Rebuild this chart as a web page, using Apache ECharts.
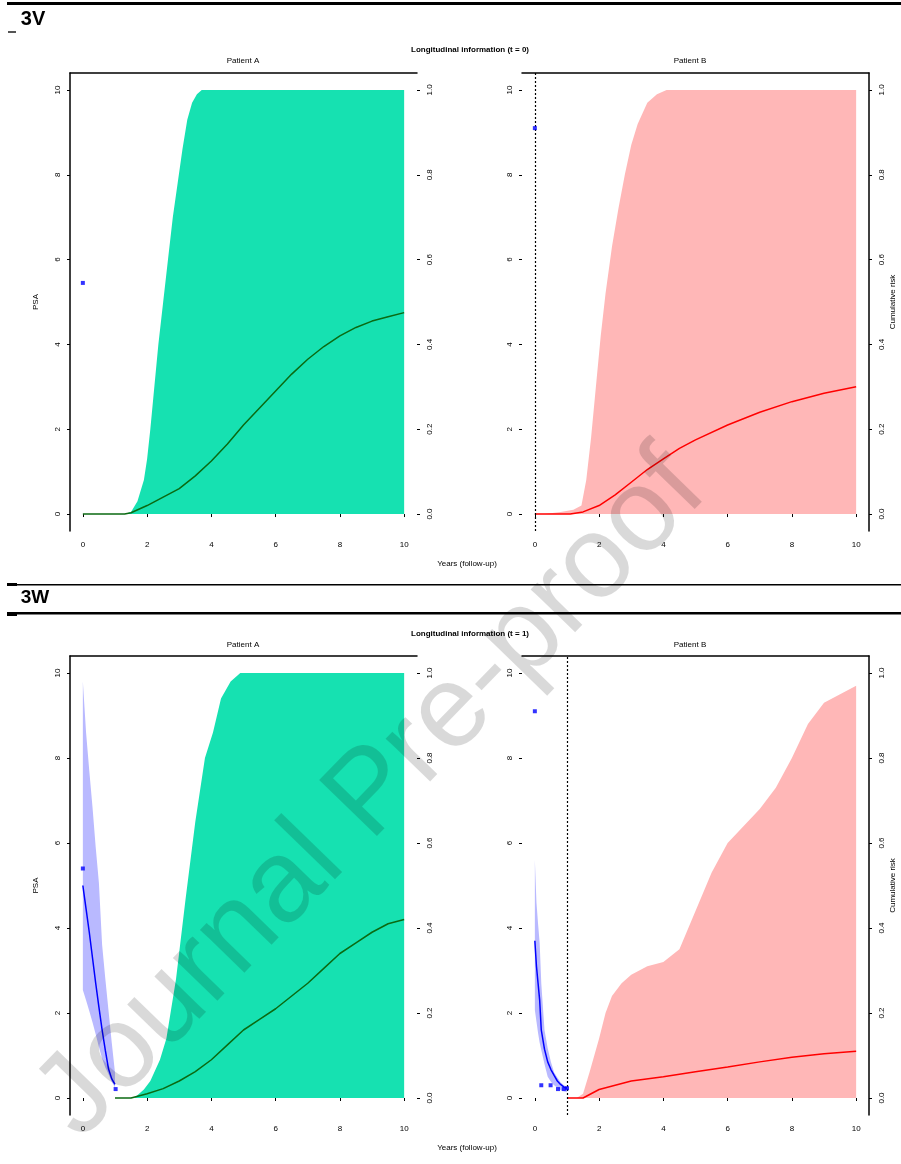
<!DOCTYPE html>
<html>
<head>
<meta charset="utf-8">
<script src="https://cdn.jsdelivr.net/npm/echarts@6/dist/echarts.min.js"></script>
<style>
html,body{margin:0;padding:0;background:#fff;}
#chart{width:901px;height:1164px;}
</style>
</head>
<body>
<div id="chart"></div>
<script>
// ---------- tick labels ----------
const yearTicks = [0, 2, 4, 6, 8, 10];
const psaTicks = [0, 2, 4, 6, 8, 10];
const riskTicks = [0, 0.2, 0.4, 0.6, 0.8, 1.0];

// ---------- 3V, Patient A (t = 0) ----------
const vA_psaObs = [[0, 5.45]];
const vA_medT = [0, 1.3, 1.5, 2, 2.5, 3, 3.5, 4, 4.5, 5, 5.5, 6, 6.5, 7, 7.5, 8, 8.5, 9, 9.5, 10];
const vA_medV = [0, 0, 0.003, 0.02, 0.04, 0.06, 0.09, 0.125, 0.165, 0.21, 0.25, 0.29, 0.33, 0.365, 0.395, 0.42, 0.44, 0.455, 0.465, 0.475];
const vA_upT = [1.3, 1.5, 1.7, 1.9, 2.0, 2.1, 2.2, 2.35, 2.5, 2.65, 2.8, 2.95, 3.1, 3.25, 3.4, 3.55, 3.7, 10];
const vA_upV = [0, 0.005, 0.03, 0.08, 0.13, 0.2, 0.28, 0.4, 0.5, 0.6, 0.7, 0.78, 0.86, 0.93, 0.97, 0.99, 1.0, 1.0];

// ---------- 3V, Patient B (t = 0) ----------
const vB_psaObs = [[0, 9.1]];
const vB_medT = [0, 1.1, 1.5, 2, 2.5, 3, 3.5, 4, 4.5, 5, 6, 7, 8, 9, 10];
const vB_medV = [0, 0, 0.005, 0.02, 0.045, 0.075, 0.105, 0.13, 0.155, 0.175, 0.21, 0.24, 0.265, 0.285, 0.30];
const vB_upT = [0.3, 0.8, 1.2, 1.45, 1.6, 1.75, 1.9, 2.05, 2.2, 2.4, 2.6, 2.8, 3.0, 3.2, 3.5, 3.8, 4.1, 10];
const vB_upV = [0, 0.005, 0.01, 0.02, 0.08, 0.18, 0.3, 0.42, 0.52, 0.63, 0.72, 0.8, 0.87, 0.92, 0.97, 0.99, 1.0, 1.0];

// ---------- 3W, Patient A (t = 1) ----------
const wA_psaObs = [[0, 5.4], [1.02, 0.21]];
const wA_psaT = [0, 0.1, 0.2, 0.3, 0.4, 0.5, 0.6, 0.7, 0.8, 0.9, 1.0];
const wA_psaMed = [5.0, 4.45, 3.9, 3.3, 2.7, 2.14, 1.6, 1.12, 0.68, 0.45, 0.32];
const wA_psaLow = [2.54, 2.3, 2.05, 1.78, 1.5, 1.2, 0.93, 0.72, 0.56, 0.38, 0.25];
const wA_psaUp = [9.8, 8.6, 7.7, 6.85, 5.9, 5.06, 3.6, 2.8, 2.05, 1.3, 0.6];
const wA_medT = [1, 1.5, 2, 2.5, 3, 3.5, 4, 4.5, 5, 5.5, 6, 6.5, 7, 7.5, 8, 8.5, 9, 9.5, 10];
const wA_medV = [0, 0, 0.01, 0.022, 0.04, 0.062, 0.09, 0.125, 0.16, 0.185, 0.21, 0.24, 0.27, 0.305, 0.34, 0.365, 0.39, 0.41, 0.42];
const wA_upT = [1, 1.6, 1.9, 2.1, 2.4, 2.6, 2.9, 3.2, 3.5, 3.8, 4.05, 4.3, 4.6, 4.9, 10];
const wA_upV = [0, 0, 0.02, 0.04, 0.09, 0.14, 0.28, 0.47, 0.65, 0.8, 0.86, 0.94, 0.98, 1.0, 1.0];

// ---------- 3W, Patient B (t = 1) ----------
const wB_psaObs = [[0, 9.1], [0.2, 0.3], [0.49, 0.3], [0.72, 0.21], [0.9, 0.21], [1.0, 0.23]];
const wB_psaT = [0, 0.05, 0.1, 0.15, 0.2, 0.3, 0.4, 0.5, 0.6, 0.7, 0.8, 0.9, 1.0];
const wB_psaMed = [3.7, 3.1, 2.7, 2.3, 1.6, 1.15, 0.85, 0.67, 0.53, 0.4, 0.32, 0.26, 0.23];
const wB_psaLow = [2.07, 1.8, 1.53, 1.3, 1.13, 0.8, 0.5, 0.38, 0.3, 0.24, 0.19, 0.16, 0.14];
const wB_psaUp = [5.6, 4.6, 4.1, 3.65, 2.7, 1.6, 1.17, 0.85, 0.6, 0.48, 0.37, 0.3, 0.26];
const wB_medT = [1, 1.5, 2, 3, 4, 5, 6, 7, 8, 9, 10];
const wB_medV = [0, 0, 0.02, 0.04, 0.05, 0.062, 0.073, 0.085, 0.096, 0.104, 0.11];
const wB_upT = [1.3, 1.5, 1.7, 2.0, 2.2, 2.4, 2.7, 3.0, 3.5, 4.0, 4.5, 5.0, 5.5, 6.0, 6.5, 7.0, 7.5, 8.0, 8.5, 9.0, 9.5, 10];
const wB_upV = [0, 0.01, 0.06, 0.14, 0.2, 0.24, 0.27, 0.29, 0.31, 0.32, 0.35, 0.44, 0.53, 0.6, 0.64, 0.68, 0.73, 0.8, 0.88, 0.93, 0.95, 0.97];

// ---------- texts ----------
const headerV = '3V';
const headerW = '3W';
const mainTitleV = 'Longitudinal information (t = 0)';
const mainTitleW = 'Longitudinal information (t = 1)';
const patientA = 'Patient A';
const patientB = 'Patient B';
const xTitle = 'Years (follow-up)';
const yLeftTitle = 'PSA';
const yRightTitle = 'Cumulative risk';
const watermark = 'Journal Pre-proof';

// ---------- helpers ----------
const zip = (a, b) => a.map((v, i) => [v, b[i]]);
const FONT = 'Liberation Sans, Arial, sans-serif';
const GREEN_FILL = '#16e1b1';
const GREEN_LINE = '#0b6a12';
const PINK_FILL = '#ffb7b7';
const RED_LINE = '#ff0000';
const BLUE_FILL = '#b9b9ff';
const BLUE_LINE = '#0000ff';

const grids = [
  {left: 70, top: 73, width: 347, height: 458},   // 3V A
  {left: 522, top: 73, width: 347, height: 458},  // 3V B
  {left: 70, top: 656, width: 347, height: 459},  // 3W A
  {left: 522, top: 656, width: 347, height: 459}  // 3W B
];

const xAxis = [];
const yAxis = [];
grids.forEach((g, gi) => {
  xAxis.push({
    gridIndex: gi, type: 'value', min: -0.4, max: 10.4, position: 'bottom',
    axisLine: {show: false},
    axisTick: {show: true, customValues: yearTicks, length: 3, lineStyle: {color: '#000', width: 1}},
    axisLabel: {customValues: yearTicks, fontSize: 8, color: '#000', margin: 10, fontFamily: FONT},
    splitLine: {show: false}
  });
  xAxis.push({
    gridIndex: gi, type: 'value', min: -0.4, max: 10.4, position: 'top',
    axisLine: {show: true, onZero: false, lineStyle: {color: '#000', width: 1.5}},
    axisTick: {show: false}, axisLabel: {show: false}, splitLine: {show: false}
  });
  const isA = gi % 2 === 0;
  yAxis.push({
    gridIndex: gi, type: 'value', min: -0.4, max: 10.4, position: 'left',
    name: isA ? yLeftTitle : '', nameLocation: 'middle', nameGap: 30, nameRotate: 90,
    nameTextStyle: {fontSize: 8, color: '#000', fontFamily: FONT},
    axisLine: {show: isA, onZero: false, lineStyle: {color: '#000', width: 1.5}},
    axisTick: {show: true, customValues: psaTicks, length: 3, lineStyle: {color: '#000'}},
    axisLabel: {customValues: psaTicks, rotate: 90, fontSize: 8, color: '#000', margin: 8, fontFamily: FONT},
    splitLine: {show: false}
  });
  yAxis.push({
    gridIndex: gi, type: 'value', min: -0.04, max: 1.04, position: 'right',
    name: isA ? '' : yRightTitle, nameLocation: 'middle', nameGap: 20, nameRotate: 90,
    nameTextStyle: {fontSize: 8, color: '#000', fontFamily: FONT},
    axisLine: {show: !isA, onZero: false, lineStyle: {color: '#000', width: 1.5}},
    axisTick: {show: true, customValues: riskTicks, length: 3, lineStyle: {color: '#000'}},
    axisLabel: {customValues: riskTicks, rotate: 90, fontSize: 8, color: '#000', margin: 9, fontFamily: FONT,
      formatter: v => v.toFixed(1)},
    splitLine: {show: false}
  });
});

const series = [];
function riskBand(gi, t, up, color) {
  series.push({
    type: 'line', xAxisIndex: gi * 2, yAxisIndex: gi * 2 + 1, data: zip(t, up),
    symbol: 'none', lineStyle: {width: 0}, areaStyle: {color: color, opacity: 1, origin: 0}, silent: true, z: 1
  });
}
function riskLine(gi, t, v, color) {
  series.push({
    type: 'line', xAxisIndex: gi * 2, yAxisIndex: gi * 2 + 1, data: zip(t, v),
    symbol: 'none', lineStyle: {width: 1.5, color: color}, z: 3
  });
}
function psaBand(gi, t, low, up) {
  const data = t.map((v, i) => [v, low[i], up[i]]);
  series.push({
    type: 'custom', xAxisIndex: gi * 2, yAxisIndex: gi * 2, data: data, z: 2, silent: true,
    clip: true,
    renderItem: function (params, api) {
      if (params.dataIndex !== 0) return null;
      const pts = [];
      for (let i = 0; i < data.length; i++) pts.push(api.coord([data[i][0], data[i][2]]));
      for (let i = data.length - 1; i >= 0; i--) pts.push(api.coord([data[i][0], data[i][1]]));
      return {type: 'polygon', shape: {points: pts}, style: {fill: BLUE_FILL}};
    }
  });
}
function psaLine(gi, t, v) {
  series.push({
    type: 'line', xAxisIndex: gi * 2, yAxisIndex: gi * 2, data: zip(t, v),
    symbol: 'none', lineStyle: {width: 1.5, color: BLUE_LINE}, z: 4
  });
}
function psaPoints(gi, pts) {
  series.push({
    type: 'scatter', xAxisIndex: gi * 2, yAxisIndex: gi * 2, data: pts,
    symbol: 'rect', symbolSize: 4, itemStyle: {color: BLUE_LINE}, z: 5
  });
}
function vline(gi, at) {
  series.push({
    type: 'line', xAxisIndex: gi * 2, yAxisIndex: gi * 2, data: [],
    markLine: {silent: true, symbol: 'none', label: {show: false},
      lineStyle: {type: [2, 2], color: '#000', width: 1.2}, data: [{xAxis: at}]}
  });
}

// 3V A
riskBand(0, vA_upT, vA_upV, GREEN_FILL);
riskLine(0, vA_medT, vA_medV, GREEN_LINE);
psaPoints(0, vA_psaObs);
// 3V B
riskBand(1, vB_upT, vB_upV, PINK_FILL);
riskLine(1, vB_medT, vB_medV, RED_LINE);
vline(1, 0);
psaPoints(1, vB_psaObs);
// 3W A
riskBand(2, wA_upT, wA_upV, GREEN_FILL);
riskLine(2, wA_medT, wA_medV, GREEN_LINE);
psaBand(2, wA_psaT, wA_psaLow, wA_psaUp);
psaLine(2, wA_psaT, wA_psaMed);
psaPoints(2, wA_psaObs);
// 3W B
riskBand(3, wB_upT, wB_upV, PINK_FILL);
riskLine(3, wB_medT, wB_medV, RED_LINE);
psaBand(3, wB_psaT, wB_psaLow, wB_psaUp);
psaLine(3, wB_psaT, wB_psaMed);
vline(3, 1);
psaPoints(3, wB_psaObs);

function txt(x, y, text, size, weight, extra) {
  return Object.assign({type: 'text', x: x, y: y, silent: true,
    style: {text: text, font: (weight || 'normal') + ' ' + size + 'px ' + FONT, fill: '#000',
      textAlign: 'center', textVerticalAlign: 'middle'}}, extra || {});
}
const graphic = [
  {type: 'rect', shape: {x: 7, y: 2, width: 894, height: 3}, style: {fill: '#000'}},
  {type: 'rect', shape: {x: 8, y: 31, width: 8, height: 2}, style: {fill: '#555'}},
  txt(33, 19, headerV, 20, 'bold'),
  {type: 'rect', shape: {x: 7, y: 584, width: 894, height: 1.5}, style: {fill: '#000'}},
  {type: 'rect', shape: {x: 7, y: 583, width: 10, height: 3}, style: {fill: '#000'}},
  txt(35, 598, headerW, 19, 'bold'),
  {type: 'rect', shape: {x: 7, y: 612, width: 894, height: 2.5}, style: {fill: '#000'}},
  {type: 'rect', shape: {x: 7, y: 612, width: 10, height: 4}, style: {fill: '#000'}},
  txt(470, 50, mainTitleV, 8, 'bold'),
  txt(243, 61, patientA, 8, 'normal'),
  txt(690, 61, patientB, 8, 'normal'),
  txt(467, 564, xTitle, 8, 'normal'),
  txt(470, 634, mainTitleW, 8, 'bold'),
  txt(243, 645, patientA, 8, 'normal'),
  txt(690, 645, patientB, 8, 'normal'),
  txt(467, 1148, xTitle, 8, 'normal'),
  txt(372, 795, watermark, 117, 'normal', {rotation: 0.80, z: 100,
    style: {text: watermark, font: '117px ' + FONT, fill: 'rgba(0,0,0,0.15)', textAlign: 'center', textVerticalAlign: 'middle'}})
];

const chart = echarts.init(document.getElementById('chart'), null, {renderer: 'canvas'});
chart.setOption({
  animation: false,
  backgroundColor: '#fff',
  grid: grids,
  xAxis: xAxis,
  yAxis: yAxis,
  series: series,
  graphic: graphic
});
</script>
</body>
</html>
